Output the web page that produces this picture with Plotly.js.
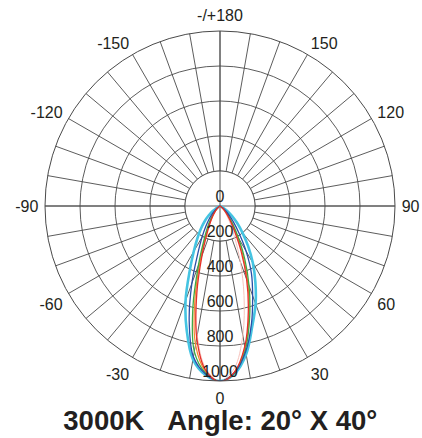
<!DOCTYPE html>
<html>
<head>
<meta charset="utf-8">
<script src="https://cdn.plot.ly/plotly-3.0.1.min.js"></script>
<style>html,body{margin:0;padding:0;background:#fff;}#chart{width:422px;height:438px;}</style>
</head>
<body>
<div id="chart"></div>
<script>
// Angles (degrees) from -90 to 90 in 5 degree steps
var angles = [-90,-85,-80,-75,-70,-65,-60,-55,-50,-45,-40,-35,-30,-25,-20,-15,-10,-5,0,5,10,15,20,25,30,35,40,45,50,55,60,65,70,75,80,85,90];

// Luminous intensity curves (cd)
var cyanSeries   = [0,0,0,0,0,8,25,50,85,125,170,225,300,410,575,735,890,968,1000,962,860,712,595,478,375,280,200,140,90,50,25,8,0,0,0,0,0];
var pinkSeries   = [0,0,0,0,0,0,0,0,8,20,40,70,120,200,340,530,750,932,1000,932,750,530,340,200,120,70,40,20,8,0,0,0,0,0,0,0,0];
var orangeSeries = [0,0,0,0,0,0,0,10,20,35,55,85,130,200,330,555,805,950,1002,954,825,640,465,310,190,118,72,42,22,10,0,0,0,0,0,0,0];
var greenSeries  = [0,0,0,0,0,0,0,10,22,38,60,95,145,220,360,598,845,957,1000,957,835,655,485,335,210,130,80,48,26,12,0,0,0,0,0,0,0];
var blueSeries   = [0,0,0,0,0,0,0,15,35,60,95,140,205,300,470,680,875,962,1000,957,845,695,545,425,298,190,120,75,42,20,0,0,0,0,0,0,0];
var redSeries    = [0,0,0,0,0,0,0,8,16,30,48,75,115,180,300,510,765,942,1005,952,815,625,445,285,168,102,62,36,20,9,0,0,0,0,0,0,0];

// Radial tick labels
var radialTickVals = [0,200,400,600,800,1000];
var radialTickText = ["0","200","400","600","800","1000"];

// Angular ticks (gridlines every 10 degrees, labels every 30)
var angTickVals = [];
for (var a = 0; a < 360; a += 10) angTickVals.push(a);
var angLabelMap = {0:"0",30:"30",60:"60",90:"90",120:"120",150:"150",180:"-/+180",210:"-150",240:"-120",270:"-90",300:"-60",330:"-30"};
var angTickText = angTickVals.map(function(v){ return angLabelMap[v] || ""; });

var titleText = "3000K\u00a0\u00a0\u00a0Angle: 20° X 40°";

var gridColor = "#4a4a4a";
var textColor = "#231f20";
var fontFam = "Liberation Sans, Arial, Helvetica, sans-serif";

// inner ring (200) covering spokes
var ringTheta = [], ringR = [];
for (var t = 0; t <= 360; t += 5) { ringTheta.push(t); ringR.push(radialTickVals[1]); }
var rMax = radialTickVals[radialTickVals.length - 1];

var traces = [
  {type:"scatterpolar", r:ringR, theta:ringTheta, mode:"lines", fill:"toself", fillcolor:"#ffffff",
   line:{color:gridColor, width:0.9}, hoverinfo:"skip", showlegend:false},
  {type:"scatterpolar", r:[rMax,0,rMax], theta:[0,0,180], mode:"lines",
   line:{color:gridColor, width:0.9}, hoverinfo:"skip", showlegend:false},
  {type:"scatterpolar", r:[rMax,0,rMax], theta:[90,0,270], mode:"lines",
   line:{color:gridColor, width:0.9}, hoverinfo:"skip", showlegend:false}
];

function curve(r, color, width) {
  return {type:"scatterpolar", r:r, theta:angles, mode:"lines",
    line:{color:color, width:width, shape:"spline", smoothing:1}, hoverinfo:"skip", showlegend:false};
}
traces.push(curve(cyanSeries, "#45c4e2", 2.6));
traces.push(curve(pinkSeries, "#f6c3bd", 1));
traces.push(curve(orangeSeries, "#f28b2e", 1.2));
traces.push(curve(greenSeries, "#3fa846", 1.3));
traces.push(curve(blueSeries, "#2a4ea6", 1.3));
traces.push(curve(redSeries, "#e5302a", 1.3));

traces.push({type:"scatterpolar", r:radialTickVals, theta:radialTickVals.map(function(){return 0;}),
  mode:"text", text:radialTickText, textposition:"top center",
  textfont:{family:fontFam, size:16, color:textColor}, hoverinfo:"skip", showlegend:false, cliponaxis:false});

var layout = {
  width:422, height:438,
  margin:{l:45, r:27, t:31, b:57},
  paper_bgcolor:"#ffffff",
  showlegend:false,
  title:{text:titleText, x:0.522, xanchor:"center", xref:"container", y:0.04, yanchor:"middle", yref:"container",
    font:{family:fontFam, size:27.5, color:textColor, weight:"bold"}},
  polar:{
    bgcolor:"#ffffff",
    domain:{x:[0,1], y:[0,1]},
    radialaxis:{range:[0,rMax], tickvals:radialTickVals, showticklabels:false, ticks:"",
      showline:false, gridcolor:gridColor, gridwidth:0.9},
    angularaxis:{rotation:-90, direction:"counterclockwise", tickmode:"array",
      tickvals:angTickVals, ticktext:angTickText, ticks:"outside", ticklen:3, tickcolor:"rgba(0,0,0,0)",
      showline:true, linecolor:gridColor, linewidth:1, gridcolor:gridColor, gridwidth:0.9,
      tickfont:{family:fontFam, size:16, color:textColor}}
  }
};

Plotly.newPlot("chart", traces, layout, {staticPlot:true, displayModeBar:false});
</script>
</body>
</html>
